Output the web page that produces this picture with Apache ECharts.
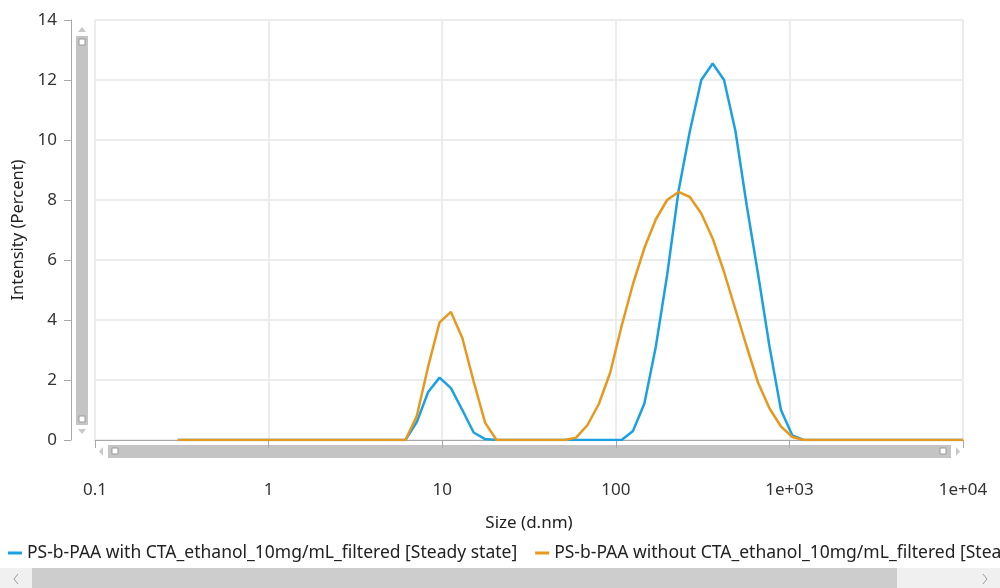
<!DOCTYPE html>
<html lang="en">
<head>
    <meta charset="UTF-8">
    <script src="https://cdn.jsdelivr.net/npm/echarts@6/dist/echarts.min.js"></script>
    <style>
        html, body { margin: 0; padding: 0; background: #fff; }
        #chart { width: 1000px; height: 588px; }
    </style>
    <title>Size distribution by intensity</title>
</head>
<body>
<div id="chart"></div>
<script type="text/javascript">
    // size classes (d.nm), 70 log-spaced bins
    var sizes = [0.3, 0.3488, 0.4057, 0.4718, 0.5486, 0.638, 0.7419, 0.8627, 1.0035, 1.167,
        1.357, 1.578, 1.835, 2.134, 2.482, 2.886, 3.356, 3.903, 4.539, 5.279,
        6.139, 7.139, 8.302, 9.655, 11.23, 13.06, 15.18, 17.66, 20.54, 23.88,
        27.77, 32.3, 37.56, 43.68, 50.79, 59.07, 68.69, 79.88, 92.9, 108.0,
        125.6, 146.1, 169.9, 197.6, 229.8, 267.2, 310.8, 361.4, 420.3, 488.8,
        568.4, 661.1, 768.8, 894.1, 1040, 1209, 1406, 1635, 1901, 2211,
        2571, 2990, 3477, 4044, 4703, 5469, 6360, 7396, 8601, 10000];

    var withCTA = [0, 0, 0, 0, 0, 0, 0, 0, 0, 0,
        0, 0, 0, 0, 0, 0, 0, 0, 0, 0,
        0, 0.6, 1.6, 2.08, 1.73, 1.0, 0.25, 0.03, 0, 0,
        0, 0, 0, 0, 0, 0, 0, 0, 0, 0,
        0.3, 1.22, 3.1, 5.5, 8.3, 10.3, 12.0, 12.55, 12.0, 10.3,
        7.8, 5.5, 3.1, 1.0, 0.15, 0, 0, 0, 0, 0,
        0, 0, 0, 0, 0, 0, 0, 0, 0, 0];

    var withoutCTA = [0, 0, 0, 0, 0, 0, 0, 0, 0, 0,
        0, 0, 0, 0, 0, 0, 0, 0, 0, 0,
        0, 0.8, 2.45, 3.92, 4.27, 3.4, 1.95, 0.58, 0, 0,
        0, 0, 0, 0, 0, 0.08, 0.5, 1.2, 2.25, 3.8,
        5.2, 6.4, 7.35, 8.0, 8.27, 8.1, 7.55, 6.72, 5.6, 4.35,
        3.1, 1.9, 1.05, 0.45, 0.1, 0, 0, 0, 0, 0,
        0, 0, 0, 0, 0, 0, 0, 0, 0, 0];

    var seriesNames = [
        'PS-b-PAA with CTA_ethanol_10mg/mL_filtered [Steady state]',
        'PS-b-PAA without CTA_ethanol_10mg/mL_filtered [Steady state]'
    ];
    var seriesColors = ['#1ba1e2', '#e6981f'];
    var xTickLabels = ['0.1', '1', '10', '100', '1e+03', '1e+04'];

    function pairs(vals) {
        return sizes.map(function (s, i) { return [s, vals[i]]; });
    }

    var font = 'Noto Sans';
    var scrollGray = '#c4c4c4';

    function handle(x, y) {
        return { type: 'rect', shape: { x: x, y: y, width: 6, height: 6 },
            style: { fill: '#fff', stroke: '#9a9a9a', lineWidth: 1 } };
    }
    function tri(points) {
        return { type: 'polygon', shape: { points: points }, style: { fill: '#c8c8c8' } };
    }

    var chart = echarts.init(document.getElementById('chart'));
    var option = {
        animation: false,
        backgroundColor: '#fff',
        textStyle: { fontFamily: font },
        grid: { left: 95, right: 37, top: 20, bottom: 148, containLabel: false },
        legend: {
            left: 8, top: 544, width: 2000, padding: 0,
            itemWidth: 14, itemHeight: 3, itemGap: 18,
            icon: 'rect',
            textStyle: { fontSize: 17.5, color: '#222', fontFamily: font },
            data: seriesNames
        },
        xAxis: {
            type: 'log', logBase: 10, min: 0.1, max: 10000,
            offset: 22,
            name: 'Size (d.nm)', nameLocation: 'middle', nameGap: 53,
            nameTextStyle: { fontSize: 17, color: '#222' },
            axisLine: { lineStyle: { color: '#a8a8a8', width: 1 } },
            axisTick: { show: true, length: 8, lineStyle: { color: '#a8a8a8' } },
            minorTick: { show: false },
            axisLabel: {
                fontSize: 17, color: '#333', margin: 20,
                formatter: function (v) {
                    var k = Math.round(Math.log10(v)) + 1;
                    return xTickLabels[k];
                }
            },
            splitLine: { show: true, lineStyle: { color: '#ececec', width: 2 } }
        },
        yAxis: {
            type: 'value', min: 0, max: 14, interval: 2,
            offset: 24,
            name: 'Intensity (Percent)', nameLocation: 'middle', nameGap: 43,
            nameTextStyle: { fontSize: 16.5, color: '#222' },
            axisLine: { show: true, lineStyle: { color: '#a8a8a8', width: 1 } },
            axisTick: { show: true, length: 7, lineStyle: { color: '#a8a8a8' } },
            axisLabel: { fontSize: 17, color: '#333', margin: 14 },
            splitLine: { show: true, lineStyle: { color: '#ececec', width: 2 } }
        },
        series: [
            {
                name: seriesNames[0], type: 'line', data: pairs(withCTA),
                showSymbol: false, color: seriesColors[0],
                lineStyle: { width: 2.5, color: seriesColors[0] }
            },
            {
                name: seriesNames[1], type: 'line', data: pairs(withoutCTA),
                showSymbol: false, color: seriesColors[1],
                lineStyle: { width: 2.5, color: seriesColors[1] }
            }
        ],
        graphic: [
            // vertical scrollbar next to the y axis
            { type: 'rect', shape: { x: 76, y: 36, width: 12, height: 389 }, style: { fill: scrollGray } },
            handle(79, 39), handle(79, 416),
            tri([[78, 32], [86, 32], [82, 27]]),
            tri([[78, 429], [86, 429], [82, 434]]),
            // horizontal scrollbar above the x axis
            { type: 'rect', shape: { x: 108, y: 445, width: 843, height: 13 }, style: { fill: scrollGray } },
            handle(112, 448), handle(940, 448),
            tri([[103, 447], [103, 456], [99, 451.5]]),
            tri([[956, 447], [956, 456], [960, 451.5]]),
            // legend scrollbar at the bottom
            { type: 'rect', shape: { x: 0, y: 568, width: 1000, height: 20 }, style: { fill: '#f0f0f0' } },
            { type: 'rect', shape: { x: 32, y: 568, width: 865, height: 20 }, style: { fill: '#cdcdcd' } },
            { type: 'polyline', shape: { points: [[18, 574], [14, 579], [18, 584]] }, style: { stroke: '#9a9a9a', lineWidth: 1 } },
            { type: 'polyline', shape: { points: [[983, 574], [987, 579], [983, 584]] }, style: { stroke: '#9a9a9a', lineWidth: 1 } }
        ]
    };
    chart.setOption(option);
</script>
</body>
</html>
